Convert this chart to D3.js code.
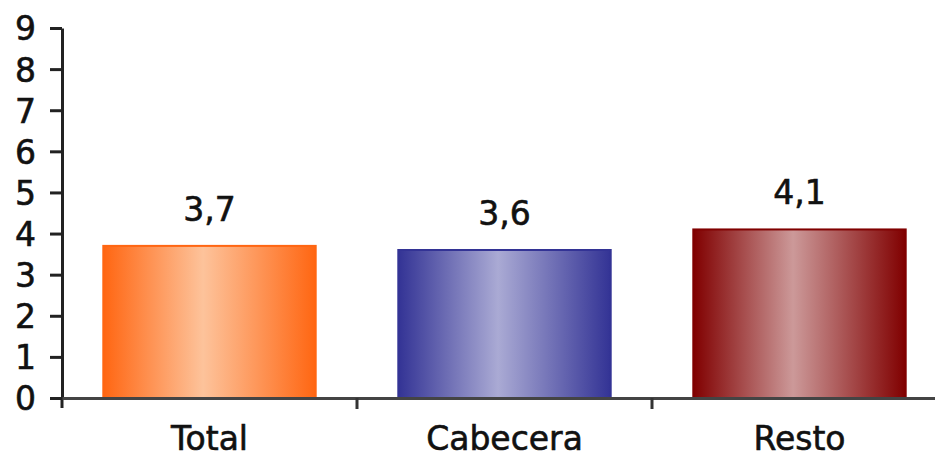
<!DOCTYPE html>
<html>
<head>
<meta charset="utf-8">
<script src="https://cdn.jsdelivr.net/npm/d3@7"></script>
<style>
  html, body { margin: 0; padding: 0; background: #fff; }
  svg { display: block; }
  text { font-family: "DejaVu Sans", sans-serif; fill: #111; stroke: #111; stroke-width: 0.6px; }
</style>
</head>
<body>
<svg id="chart" width="935" height="454"></svg>
<script>
const categories = ["Total", "Cabecera", "Resto"];
const values = [3.7, 3.6, 4.1];
const valueLabels = ["3,7", "3,6", "4,1"];
const yTicks = [0, 1, 2, 3, 4, 5, 6, 7, 8, 9];
const edgeColors = ["#ff6612", "#333395", "#800000"];
const lightColors = ["#fdc39b", "#aaaad4", "#cc9999"];

const svg = d3.select("#chart");
const mLeft = 62, mRight = 947, mTop = 28, mBottom = 398;

const x = d3.scaleBand().domain(categories).range([mLeft, mRight])
  .paddingInner(0.28).paddingOuter(0.14);
const y = d3.scaleLinear().domain([0, 9]).range([mBottom, mTop]);

const defs = svg.append("defs");
categories.forEach((c, i) => {
  const g = defs.append("linearGradient").attr("id", "g" + i)
    .attr("x1", "0%").attr("x2", "100%").attr("y1", "0%").attr("y2", "0%");
  g.append("stop").attr("offset", "0%").attr("stop-color", edgeColors[i]);
  g.append("stop").attr("offset", "47%").attr("stop-color", lightColors[i]);
  g.append("stop").attr("offset", "100%").attr("stop-color", edgeColors[i]);
});

// bars
svg.append("g").selectAll("rect").data(categories).join("rect")
  .attr("x", d => x(d))
  .attr("y", (d, i) => y(values[i]))
  .attr("width", x.bandwidth())
  .attr("height", (d, i) => y(0) - y(values[i]))
  .attr("fill", (d, i) => `url(#g${i})`)
  .attr("stroke", (d, i) => edgeColors[i])
  .attr("stroke-width", 2);

// value labels
svg.append("g").selectAll("text").data(categories).join("text")
  .attr("x", d => x(d) + x.bandwidth() / 2)
  .attr("y", (d, i) => y(values[i]) - 25)
  .attr("text-anchor", "middle")
  .attr("font-size", 33)
  .text((d, i) => valueLabels[i]);

// y axis
const yAxis = svg.append("g").attr("transform", `translate(${mLeft},0)`)
  .call(d3.axisLeft(y).tickValues(yTicks).tickSize(12).tickSizeOuter(0).tickPadding(14)
    .tickFormat(d3.format("d")));
yAxis.select(".domain").attr("stroke", "#222").attr("stroke-width", 3);
yAxis.selectAll(".tick line").attr("stroke", "#222").attr("stroke-width", 3);
yAxis.selectAll(".tick text").attr("font-size", 33).attr("font-family", "DejaVu Sans")
  .attr("fill", "#111").attr("dy", "0.36em");
yAxis.append("line").attr("x1", 0).attr("x2", 0).attr("y1", mBottom).attr("y2", mBottom + 10)
  .attr("stroke", "#222").attr("stroke-width", 3);

// x axis
const xAxis = svg.append("g").attr("transform", `translate(0,${mBottom})`)
  .call(d3.axisBottom(x).tickSize(0).tickSizeOuter(0).tickPadding(29));
xAxis.select(".domain").attr("stroke", "#444").attr("stroke-width", 3);
xAxis.selectAll(".tick text").attr("font-size", 33).attr("font-family", "DejaVu Sans")
  .attr("fill", "#111");
const gap = (x.step() - x.bandwidth()) / 2;
xAxis.selectAll("line.sep").data(categories.slice(1)).join("line").attr("class", "sep")
  .attr("x1", d => x(d) - gap).attr("x2", d => x(d) - gap)
  .attr("y1", 0).attr("y2", 11)
  .attr("stroke", "#333").attr("stroke-width", 3);
</script>
</body>
</html>
